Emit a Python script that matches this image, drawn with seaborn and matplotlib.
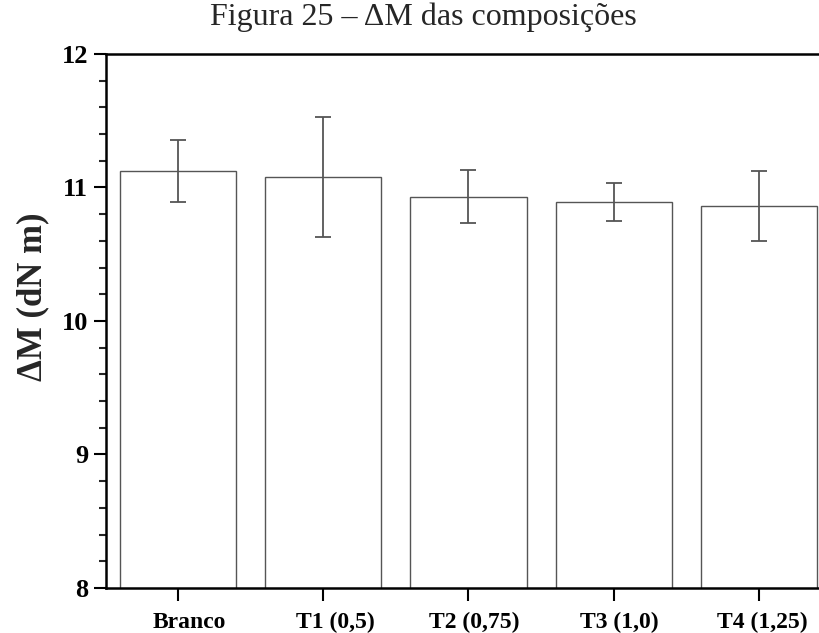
import matplotlib
matplotlib.use("Agg")
import matplotlib.pyplot as plt
import matplotlib.transforms as mtransforms
import seaborn as sns
import pandas as pd
from matplotlib.ticker import MultipleLocator

categories = ["Branco", "T1 (0,5)", "T2 (0,75)", "T3 (1,0)", "T4 (1,25)"]
values = [11.125, 11.08, 10.93, 10.89, 10.86]
errors = [0.233, 0.45, 0.197, 0.141, 0.259]
y_ticks = [8, 9, 10, 11, 12]

sns.set_style("ticks")
plt.rcParams["font.family"] = ["Liberation Serif", "DejaVu Serif"]

df = pd.DataFrame({"cat": categories, "val": values})

fig = plt.figure(figsize=(8.19, 6.33), dpi=100)
ax = fig.add_axes([0.129, 0.071, 0.886, 0.844])

sns.barplot(data=df, x="cat", y="val", ax=ax, color="white", edgecolor="#555555",
            linewidth=1.0, width=0.8, errorbar=None, saturation=1)
ax.errorbar(range(len(categories)), values, yerr=errors, fmt="none",
            ecolor="#555555", elinewidth=1.3, capsize=5.5, capthick=1.3)

ax.set_ylim(8, 12)
ax.set_xlim(-0.5, 4.5)
ax.set_yticks(y_ticks)
ax.yaxis.set_minor_locator(MultipleLocator(0.2))
ax.set_yticklabels([str(t) for t in y_ticks], fontsize=19, fontweight="bold")
ax.set_xticks(range(len(categories)))
ax.set_xticklabels(categories, fontsize=17, fontweight="bold")
ax.tick_params(axis="both", which="major", direction="out", length=9, width=1.5, colors="black")
ax.tick_params(axis="y", which="minor", direction="out", length=5, width=1.5)
ax.tick_params(axis="x", pad=8)
ax.set_xlabel("")
ax.set_ylabel("ΔM (dN m)", fontsize=25, fontweight="bold")
ax.yaxis.set_label_coords(-0.100, 0.545)
ax.yaxis.label.set_verticalalignment("center")
for s in ax.spines.values():
    s.set_linewidth(1.8)
    s.set_color("black")

# slight rightward shift of tick labels as in the reference
shifts_px = [11, 12, 6, 6, 4]
for lab, dx in zip(ax.get_xticklabels(), shifts_px):
    lab.set_transform(lab.get_transform() +
                      mtransforms.ScaledTranslation(dx / 100, 0, fig.dpi_scale_trans))

fig.text(0.5165, 1 - 25 / 633, "Figura 25 – ΔM das composições", ha="center",
         va="baseline", fontsize=23)

fig.savefig("out.png", dpi=100)
